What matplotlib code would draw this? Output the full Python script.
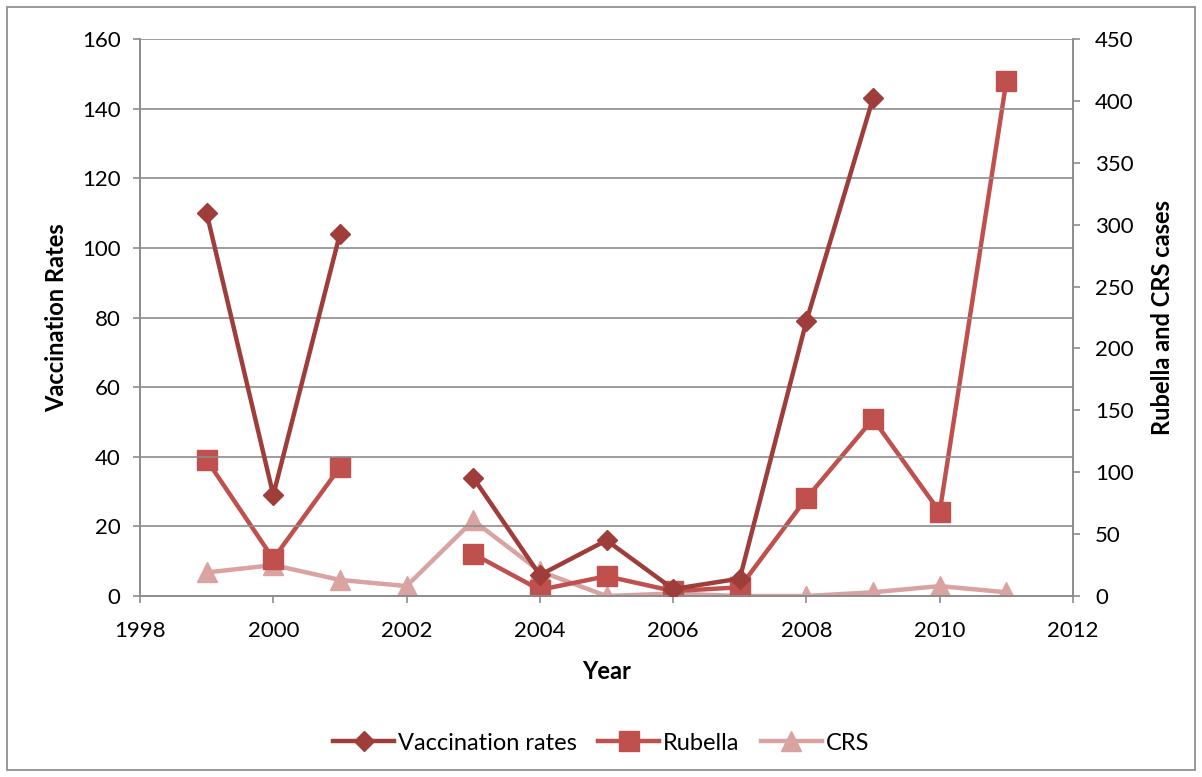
import numpy as np
import matplotlib.pyplot as plt
from matplotlib.patches import Rectangle

plt.rcParams['font.family'] = ['Lato', 'DejaVu Sans']

years = [1999, 2000, 2001, 2002, 2003, 2004, 2005, 2006, 2007, 2008, 2009, 2010, 2011]
vaccination = [110, 29, 104, np.nan, 34, 6, 16, 2, 5, 79, 143, np.nan, np.nan]
rubella = [110, 30, 104, np.nan, 34, 5, 16, 4, 7, 79, 143, 68, 416]
crs = [19, 25, 13, 8, 61, 20, 0, 2, 0, 0, 3, 8, 3]

c_vac = '#9E3D3A'
c_rub = '#C0504D'
c_crs = '#D8A3A1'
grid_c = '#8C8C8C'

fig = plt.figure(figsize=(12.02, 7.77), dpi=100)
ax = fig.add_axes([140 / 1202, 1 - 596 / 777, 933 / 1202, 557 / 777])
ax2 = ax.twinx()

ax.plot(years, vaccination, color=c_vac, lw=3.2, marker='D', ms=10, label='Vaccination rates', zorder=3)
l2, = ax2.plot(years, rubella, color=c_rub, lw=3.2, marker='s', ms=14, label='Rubella', zorder=3)
l3, = ax2.plot(years, crs, color=c_crs, lw=3.2, marker='^', ms=14, label='CRS', zorder=2)

ax.set_xlim(1998, 2012)
ax.set_xticks(range(1998, 2013, 2))
ax.set_ylim(0, 160)
ax.set_yticks(range(0, 161, 20))
ax2.set_ylim(0, 450)
ax2.set_yticks(range(0, 451, 50))

ax.grid(axis='y', color=grid_c, lw=1.2)
ax.set_axisbelow(True)

for a in (ax, ax2):
    a.spines['top'].set_visible(False)
    for s in ('left', 'right', 'bottom'):
        a.spines[s].set_color(grid_c)
        a.spines[s].set_linewidth(1.2)
    a.tick_params(colors=grid_c, labelcolor='black', labelsize=16, length=5, width=1.2)
ax.tick_params(axis='y', pad=9)
ax2.tick_params(axis='y', pad=11)
ax.tick_params(axis='x', pad=13)

ax.set_xlabel('Year', fontsize=17, fontweight='bold', labelpad=14)
ax.set_ylabel('Vaccination Rates', fontsize=17, fontweight='bold', labelpad=10)
ax2.set_ylabel('Rubella and CRS cases', fontsize=17, fontweight='bold', labelpad=12)

# put the first axis on top so vaccination line is drawn over the others
ax.set_zorder(ax2.get_zorder() + 1)
ax.patch.set_visible(False)

handles = [ax.get_lines()[0], l2, l3]
fig.legend(handles, [h.get_label() for h in handles], loc='center', bbox_to_anchor=(0.5, 1 - 743 / 777),
           ncol=3, frameon=False, fontsize=17, handlelength=2.6, columnspacing=0.9, handletextpad=0.15)

fig.patches.append(Rectangle((7 / 1202, 7 / 777), 1188 / 1202, 763 / 777, transform=fig.transFigure,
                             fill=False, edgecolor='#868686', lw=1.2))

fig.savefig('out.png', dpi=100)
